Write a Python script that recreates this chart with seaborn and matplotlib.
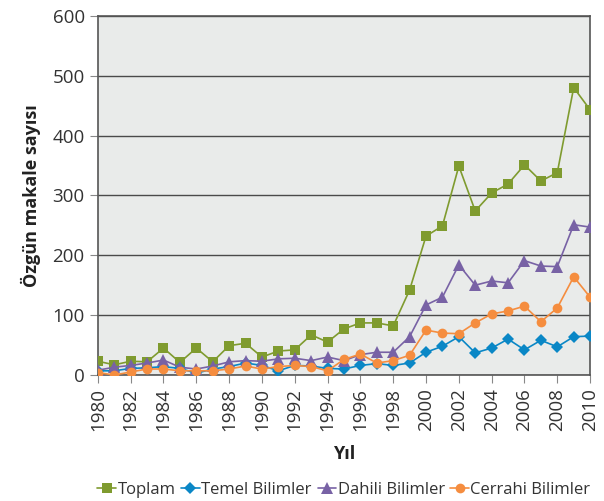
import numpy as np
import pandas as pd
import matplotlib
matplotlib.use("Agg")
import matplotlib.pyplot as plt
import seaborn as sns

years = list(range(1980, 2011))

toplam = [23, 17, 23, 22, 45, 21, 45, 22, 49, 53, 30, 40, 42, 67, 55, 77, 87, 87, 82, 142,
          232, 249, 349, 274, 304, 319, 351, 324, 338, 480, 443]
temel = [7, 7, 11, 12, 14, 11, 3, 10, 14, 20, 16, 7, 16, 15, 11, 10, 16, 19, 16, 20,
         38, 48, 64, 37, 45, 60, 42, 58, 47, 64, 65]
dahili = [8, 13, 16, 20, 25, 13, 10, 15, 22, 24, 23, 27, 28, 24, 30, 24, 34, 38, 38, 64,
          117, 130, 184, 150, 157, 154, 191, 182, 181, 251, 247]
cerrahi = [4, 0, 5, 10, 10, 7, 7, 7, 10, 15, 10, 14, 16, 14, 7, 26, 35, 20, 24, 33,
           75, 70, 69, 87, 102, 107, 115, 89, 112, 164, 130]

series_names = ["Toplam", "Temel Bilimler", "Dahili Bilimler", "Cerrahi Bilimler"]
series_values = [toplam, temel, dahili, cerrahi]
colors = ["#7f9b2f", "#0a87c6", "#7862a5", "#f58d3f"]
markers = ["s", "D", "^", "o"]
sizes = [7, 6, 8, 7]

sns.set_style("white")
plt.rcParams["font.family"] = ["Open Sans", "DejaVu Sans"]

df = pd.DataFrame({"Yıl": years})
for name, vals in zip(series_names, series_values):
    df[name] = vals
long = df.melt(id_vars="Yıl", var_name="Seri", value_name="Sayı")

fig = plt.figure(figsize=(6.04, 5.01), dpi=100)
ax = fig.add_axes([0.162, 0.2515, 0.815, 0.717])
ax.set_facecolor("#e9ebea")

for name, c, m, s in zip(series_names, colors, markers, sizes):
    sub = long[long["Seri"] == name]
    sns.lineplot(data=sub, x="Yıl", y="Sayı", ax=ax, color=c, marker=m,
                 markersize=s, markeredgewidth=0, linewidth=1.2, label=name, zorder=3)

ax.set_xlim(1980, 2010)
ax.set_ylim(0, 600)
ax.set_xticks(range(1980, 2011, 2))
ax.set_yticks(range(0, 601, 100))
ax.tick_params(axis="x", rotation=90, labelsize=13.5, colors="#333333", length=6,
               direction="out", bottom=True, color="#888888")
ax.tick_params(axis="y", labelsize=13.5, colors="#333333", length=6, left=True, color="#888888")
ax.grid(axis="y", color="#4a4a4a", linewidth=1.0)
ax.set_axisbelow(True)
for sp in ax.spines.values():
    sp.set_color("#555555")
    sp.set_linewidth(1.2)

ax.set_xlabel("Yıl", fontsize=13, fontweight="bold", color="#222222", labelpad=10)
ax.set_ylabel("Özgün makale sayısı", fontsize=13, fontweight="bold", color="#222222", labelpad=8)

ax.legend(loc="center", bbox_to_anchor=(0.5, -0.32), ncol=4, frameon=False,
          fontsize=12, handlelength=1.1, handletextpad=0.1, columnspacing=0.35,
          borderaxespad=0, labelcolor="#333333")

fig.savefig("out.png", dpi=100)
